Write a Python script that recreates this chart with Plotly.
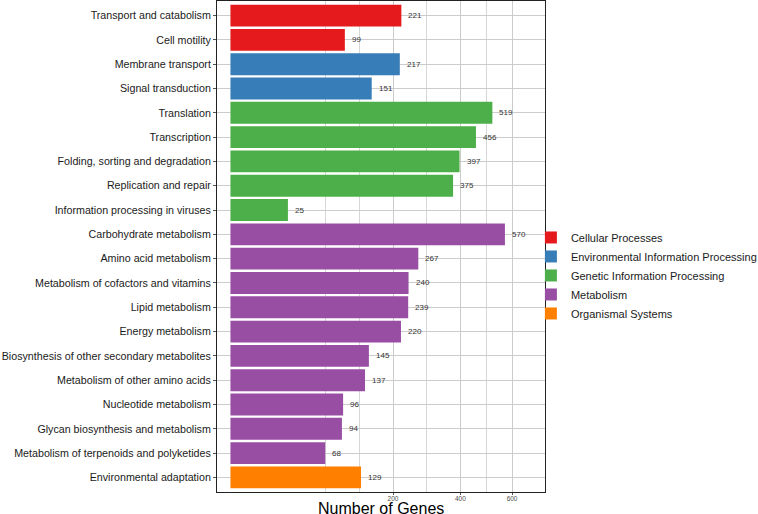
import numpy as np
import plotly.graph_objects as go

categories = [
    "Transport and catabolism", "Cell motility",
    "Membrane transport", "Signal transduction",
    "Translation", "Transcription", "Folding, sorting and degradation",
    "Replication and repair", "Information processing in viruses",
    "Carbohydrate metabolism", "Amino acid metabolism",
    "Metabolism of cofactors and vitamins", "Lipid metabolism",
    "Energy metabolism", "Biosynthesis of other secondary metabolites",
    "Metabolism of other amino acids", "Nucleotide metabolism",
    "Glycan biosynthesis and metabolism",
    "Metabolism of terpenoids and polyketides",
    "Environmental adaptation",
]
gene_counts = [221, 99, 217, 151, 519, 456, 397, 375, 25, 570, 267, 240,
               239, 220, 145, 137, 96, 94, 68, 129]
groups = ["Cellular Processes"] * 2 + ["Environmental Information Processing"] * 2 + \
         ["Genetic Information Processing"] * 5 + ["Metabolism"] * 10 + ["Organismal Systems"]
group_order = ["Cellular Processes", "Environmental Information Processing",
               "Genetic Information Processing", "Metabolism", "Organismal Systems"]
group_colors = ["#E41A1C", "#377EB8", "#4DAF4A", "#984EA3", "#FF7F00"]
tick_values = [200, 400, 600]
x_title = "Number of Genes"

FONT = "Liberation Sans, Arial, sans-serif"

def sqrt_t(v):
    return np.sqrt(np.asarray(v, dtype=float))

fig = go.Figure()
for g, col in zip(group_order, group_colors):
    idx = [i for i, gg in enumerate(groups) if gg == g]
    fig.add_trace(go.Bar(
        y=[categories[i] for i in idx],
        x=sqrt_t([gene_counts[i] for i in idx]),
        orientation="h", name=g, width=0.9,
        marker=dict(color=col, line=dict(width=0)),
        hoverinfo="skip",
    ))

# value labels next to bar ends
for cat, v in zip(categories, gene_counts):
    fig.add_annotation(
        x=float(np.sqrt(v)), y=cat, text=str(v), showarrow=False,
        xanchor="left", yanchor="middle", xshift=5,
        font=dict(size=8, color="#333333", family=FONT),
    )

# x-axis title placed just under the tick labels
fig.add_annotation(
    xref="paper", yref="paper", x=0.5, y=0, xanchor="center", yanchor="top",
    yshift=-6, text=x_title, showarrow=False,
    font=dict(size=16, color="black", family=FONT),
)

# ggplot-like minor breaks in sqrt space
major = sqrt_t(tick_values)
d0 = major[1] - major[0]
ext = np.concatenate([[major[0] - d0], major])
minor_vals = []
for a, b in zip(ext[:-1], ext[1:]):
    minor_vals += [a, (a + b) / 2]

fig.update_layout(
    width=758, height=514,
    margin=dict(l=217, r=213, t=1, b=22, autoexpand=False),
    paper_bgcolor="white", plot_bgcolor="white",
    barmode="relative", bargap=0.1,
    font=dict(family=FONT, color="#1a1a1a"),
    legend=dict(
        x=0.957, y=0.441, xanchor="left", yanchor="middle",
        font=dict(size=11, color="#1a1a1a", family=FONT),
        itemwidth=30, tracegroupgap=0, traceorder="normal",
        bgcolor="rgba(0,0,0,0)",
    ),
    showlegend=True,
)
fig.update_xaxes(
    range=[-1.17, 27.36],
    tickvals=major, ticktext=[str(t) for t in tick_values],
    tickfont=dict(size=6.5, color="#4d4d4d"),
    ticks="outside", ticklen=2, tickcolor="#555555",
    ticklabelstandoff=-2,
    showgrid=True, gridcolor="#cccccc", gridwidth=1,
    minor=dict(tickvals=minor_vals, showgrid=True, gridcolor="#d6d6d6", gridwidth=1, ticks=""),
    showline=True, mirror=True, linecolor="#222222", linewidth=1,
    zeroline=False,
)
fig.update_yaxes(
    categoryorder="array", categoryarray=categories,
    range=[19.6, -0.6],
    tickfont=dict(size=10.7, color="#1a1a1a"),
    ticks="outside", ticklen=3, tickcolor="#555555",
    showgrid=True, gridcolor="#cccccc", gridwidth=1,
    showline=True, mirror=True, linecolor="#222222", linewidth=1,
    zeroline=False,
)

fig.write_html("out.html")
